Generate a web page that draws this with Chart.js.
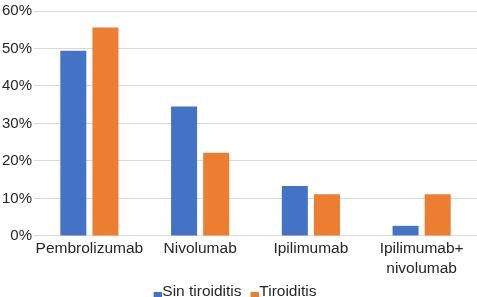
<!DOCTYPE html>
<html>
<head>
<meta charset="utf-8">
<script src="https://cdn.jsdelivr.net/npm/chart.js@4"></script>
<style>
  html, body { margin: 0; padding: 0; background: #fff; }
  #wrap { width: 477px; height: 297px; }
</style>
</head>
<body>
<div id="wrap"><canvas id="chart"></canvas></div>
<script>
// categories and values (percent)
const drugs = ['Pembrolizumab', 'Nivolumab', 'Ipilimumab', ['Ipilimumab+', 'nivolumab']];
const sinTiroiditis = [49.4, 34.5, 13.3, 2.7];
const tiroiditis = [55.6, 22.2, 11.1, 11.1];
const seriesNames = ['Sin tiroiditis', 'Tiroiditis'];
const seriesColors = ['#4472C4', '#ED7D31'];
const yTicks = [0, 10, 20, 30, 40, 50, 60];

Chart.defaults.font.family = 'Arial, "Liberation Sans", sans-serif';
Chart.defaults.color = '#262626';

// legend marker: small square sitting right next to the text, like Excel
function legendMarker(color) {
    const c = document.createElement('canvas');
    c.width = 22;
    c.height = 16;
    const g = c.getContext('2d');
    g.fillStyle = color;
    g.fillRect(14, 8, 8, 6);
    return c;
}
const markers = seriesColors.map(legendMarker);

// nudge the legend a bit left, the reference sits slightly off centre
const legendShift = {
    id: 'legendShift',
    afterLayout(chart) {
        chart.legend.left -= 7;
        chart.legend.right -= 7;
    }
};

const ctx = document.getElementById('chart').getContext('2d');
new Chart(ctx, {
    type: 'bar',
    data: {
        labels: drugs,
        datasets: [
            {
                label: seriesNames[0],
                data: sinTiroiditis,
                backgroundColor: seriesColors[0]
            },
            {
                label: seriesNames[1],
                data: tiroiditis,
                backgroundColor: seriesColors[1]
            }
        ]
    },
    plugins: [legendShift],
    options: {
        responsive: true,
        maintainAspectRatio: false,
        animation: false,
        categoryPercentage: 0.58,
        barPercentage: 0.81,
        // legend reserves 10px of empty space below itself, pull it down
        layout: { padding: { top: 0, right: 0, left: 0, bottom: -12.75 } },
        plugins: {
            legend: {
                position: 'bottom',
                labels: {
                    usePointStyle: true,
                    pointStyleWidth: 8,
                    padding: 2,
                    font: { size: 15.5 },
                    generateLabels: chart => {
                        const items = Chart.defaults.plugins.legend.labels.generateLabels(chart);
                        items.forEach((item, i) => { item.pointStyle = markers[i]; });
                        return items;
                    }
                }
            },
            tooltip: { enabled: false }
        },
        scales: {
            x: {
                grid: { display: false, drawTicks: false },
                border: { color: '#d9d9d9' },
                ticks: { font: { size: 15.5, lineHeight: 1.3 }, maxRotation: 0, padding: 3 }
            },
            y: {
                min: 0,
                max: 60,
                afterBuildTicks: axis => {
                    axis.ticks = yTicks.map(v => ({ value: v }));
                },
                grid: { color: '#d9d9d9', drawTicks: false },
                border: { display: false },
                ticks: {
                    font: { size: 15 },
                    padding: 2,
                    callback: v => v + '%'
                }
            }
        }
    }
});
</script>
</body>
</html>
